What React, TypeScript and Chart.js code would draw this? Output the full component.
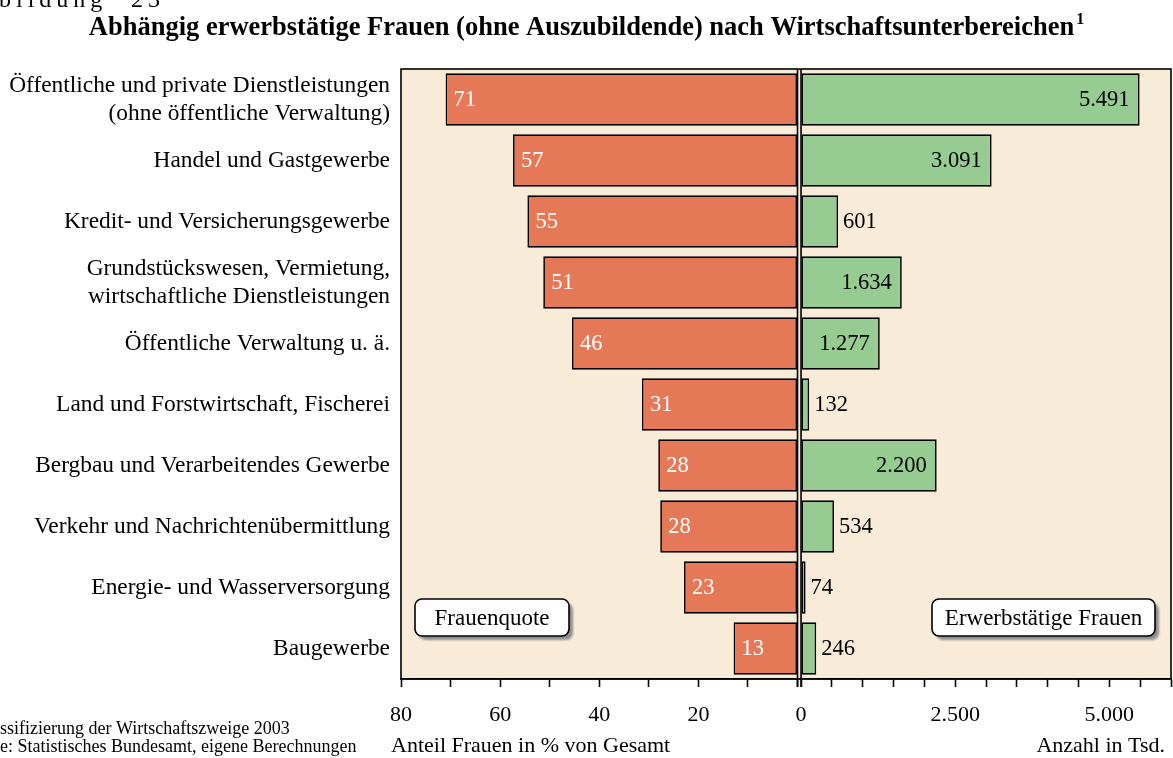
import React, { useEffect, useRef } from 'react';
import { Chart, registerables } from 'chart.js';

Chart.register(...registerables);

// ---------- data ----------
const categories: (string | string[])[] = [
  ['Öffentliche und private Dienstleistungen', '(ohne öffentliche Verwaltung)'],
  'Handel und Gastgewerbe',
  'Kredit- und Versicherungsgewerbe',
  ['Grundstückswesen, Vermietung,', 'wirtschaftliche Dienstleistungen'],
  'Öffentliche Verwaltung u. ä.',
  'Land und Forstwirtschaft, Fischerei',
  'Bergbau und Verarbeitendes Gewerbe',
  'Verkehr und Nachrichtenübermittlung',
  'Energie- und Wasserversorgung',
  'Baugewerbe',
];
// Anteil Frauen in % von Gesamt
const frauenquote = [71.0, 57.4, 54.5, 51.3, 45.5, 31.4, 28.1, 27.7, 22.9, 12.9];
// Erwerbstätige Frauen, Anzahl in Tsd.
const erwerbstaetige = [5491, 3091, 601, 1634, 1277, 132, 2200, 534, 74, 246];

const leftTicks = [0, 10, 20, 30, 40, 50, 60, 70, 80];
const leftLabeled = [20, 40, 60, 80];
const rightTicks = [0, 500, 1000, 1500, 2000, 2500, 3000, 3500, 4000, 4500, 5000, 5500, 6000];
const rightLabeled = [0, 2500, 5000];

const titleText = 'Abhängig erwerbstätige Frauen (ohne Auszubildende) nach Wirtschaftsunterbereichen';
const titleSup = '1';
const figureText = 'bildung';
const figureNum = '23';
const leftAxisTitle = 'Anteil Frauen in % von Gesamt';
const rightAxisTitle = 'Anzahl in Tsd.';
const footnote1 = 'ssifizierung der Wirtschaftszweige 2003';
const footnote2 = 'e: Statistisches Bundesamt, eigene Berechnungen';
const leftBoxText = 'Frauenquote';
const rightBoxText = 'Erwerbstätige Frauen';

// ---------- style ----------
const FONT = '"Liberation Serif", "Times New Roman", Times, serif';
const ORANGE = '#E57957';
const GREEN = '#96CC91';
const BEIGE = '#F8ECD8';

const fmtDE = (v: number) => String(Math.round(v)).replace(/\B(?=(\d{3})+(?!\d))/g, '.');

function drawBox(ctx: CanvasRenderingContext2D, x: number, y: number, w: number, h: number, text: string) {
  ctx.save();
  ctx.fillStyle = '#8e8e8e';
  ctx.filter = 'blur(1px)';
  ctx.beginPath();
  ctx.roundRect(x + 4, y + 4, w, h, 7);
  ctx.fill();
  ctx.filter = 'none';
  ctx.fillStyle = '#ffffff';
  ctx.beginPath();
  ctx.roundRect(x, y, w, h, 7);
  ctx.fill();
  ctx.lineWidth = 1.6;
  ctx.strokeStyle = '#000';
  ctx.stroke();
  ctx.fillStyle = '#000';
  ctx.font = `23px ${FONT}`;
  ctx.textAlign = 'center';
  ctx.textBaseline = 'middle';
  ctx.fillText(text, x + w / 2, y + h / 2 + 1);
  ctx.restore();
}

const decorPlugin = {
  id: 'decor',
  beforeDraw(chart: any) {
    const { ctx, chartArea: a } = chart;
    ctx.save();
    ctx.fillStyle = '#ffffff';
    ctx.fillRect(0, 0, chart.width, chart.height);
    ctx.fillStyle = BEIGE;
    ctx.fillRect(a.left, a.top, a.right - a.left, a.bottom - a.top);
    ctx.restore();
  },
  afterDatasetsDraw(chart: any) {
    const { ctx } = chart;
    ctx.save();
    ctx.font = `22.5px ${FONT}`;
    ctx.textBaseline = 'middle';
    const m0 = chart.getDatasetMeta(0);
    m0.data.forEach((bar: any, i: number) => {
      const p = bar.getProps(['x', 'y'], true);
      ctx.fillStyle = '#ffffff';
      ctx.textAlign = 'left';
      ctx.fillText(String(Math.round(frauenquote[i])), p.x + 8, p.y + 1);
    });
    const m1 = chart.getDatasetMeta(1);
    m1.data.forEach((bar: any, i: number) => {
      const p = bar.getProps(['x', 'y'], true);
      const v = erwerbstaetige[i];
      ctx.fillStyle = '#000000';
      if (v >= 1000) {
        ctx.textAlign = 'right';
        ctx.fillText(fmtDE(v), p.x - 10, p.y + 1);
      } else {
        ctx.textAlign = 'left';
        ctx.fillText(fmtDE(v), p.x + 5, p.y + 1);
      }
    });
    ctx.restore();
  },
  afterDraw(chart: any) {
    const { ctx, chartArea: a } = chart;
    const xL = chart.scales.xL;
    const xR = chart.scales.xR;
    ctx.save();
    // frame
    ctx.strokeStyle = '#000';
    ctx.lineWidth = 1.6;
    ctx.strokeRect(a.left, a.top, a.right - a.left, a.bottom - a.top);
    // centre lines
    const c1 = xL.getPixelForValue(0);
    const c2 = xR.getPixelForValue(0);
    ctx.beginPath();
    ctx.moveTo(c1, a.top);
    ctx.lineTo(c1, a.bottom + 8);
    ctx.moveTo(c2, a.top);
    ctx.lineTo(c2, a.bottom + 8);
    ctx.stroke();

    // legend boxes
    drawBox(ctx, a.left + 14, 599, 154, 37, leftBoxText);
    drawBox(ctx, a.right - 239, 599, 223, 37, rightBoxText);

    // title
    ctx.fillStyle = '#000';
    ctx.textBaseline = 'alphabetic';
    ctx.font = `bold 26.5px ${FONT}`;
    const wMain = ctx.measureText(titleText).width;
    ctx.font = `bold 16px ${FONT}`;
    const wSup = ctx.measureText(titleSup).width;
    const x0 = chart.width / 2 - (wMain + 2 + wSup) / 2;
    ctx.font = `bold 26.5px ${FONT}`;
    ctx.textAlign = 'left';
    ctx.fillText(titleText, x0, 35);
    ctx.font = `bold 16px ${FONT}`;
    ctx.fillText(titleSup, x0 + wMain + 2, 24);

    // figure number (cropped at top)
    ctx.font = `24px ${FONT}`;
    (ctx as any).letterSpacing = '5px';
    ctx.fillText(figureText, -1, 7);
    ctx.fillText(figureNum, 131, 7);
    (ctx as any).letterSpacing = '0px';

    // axis titles
    ctx.font = `22px ${FONT}`;
    ctx.textAlign = 'left';
    ctx.fillText(leftAxisTitle, a.left - 10, 752);
    ctx.textAlign = 'right';
    ctx.fillText(rightAxisTitle, a.right - 6, 752);

    // footnotes
    ctx.font = `18px ${FONT}`;
    ctx.textAlign = 'left';
    ctx.fillText(footnote1, 0, 734);
    ctx.fillText(footnote2, 0, 752);
    ctx.restore();
  },
};

const xFit = (s: any) => {
  s.height = 79;
  s.paddingLeft = 0;
  s.paddingRight = 0;
};

export default function App() {
  const ref = useRef<HTMLCanvasElement | null>(null);
  useEffect(() => {
    if (!ref.current) return;
    const chart = new Chart(ref.current, {
      type: 'bar',
      data: {
        labels: categories as any,
        datasets: [
          {
            label: leftBoxText,
            data: frauenquote,
            xAxisID: 'xL',
            yAxisID: 'y',
            backgroundColor: ORANGE,
            borderColor: '#000',
            borderWidth: 1.7,
            borderSkipped: false,
            grouped: false,
            barPercentage: 0.86,
            categoryPercentage: 1,
          } as any,
          {
            label: rightBoxText,
            data: erwerbstaetige,
            xAxisID: 'xR',
            yAxisID: 'y',
            backgroundColor: GREEN,
            borderColor: '#000',
            borderWidth: 1.7,
            borderSkipped: false,
            grouped: false,
            barPercentage: 0.86,
            categoryPercentage: 1,
          } as any,
        ],
      },
      options: {
        indexAxis: 'y',
        animation: false,
        responsive: true,
        maintainAspectRatio: false,
        layout: { padding: { top: 69, right: 2, bottom: 0, left: 0 } },
        plugins: {
          legend: { display: false },
          tooltip: { enabled: false },
          title: { display: false },
        },
        scales: {
          xL: {
            type: 'linear',
            position: 'bottom',
            stack: 'x',
            stackWeight: 398.5,
            reverse: true,
            min: -0.4,
            max: 80,
            afterBuildTicks: (s: any) => {
              s.ticks = leftTicks.map((v) => ({ value: v }));
            },
            afterFit: xFit,
            ticks: {
              autoSkip: false,
              maxRotation: 0,
              padding: 15,
              color: '#000',
              font: { family: FONT, size: 22 },
              callback: (v: any) => (leftLabeled.includes(Number(v)) ? String(v) : ''),
            },
            grid: {
              drawOnChartArea: false,
              drawTicks: true,
              tickLength: 8,
              tickWidth: 1.6,
              tickColor: '#000',
            },
            border: { display: true, color: '#000', width: 1.6 },
          },
          xR: {
            type: 'linear',
            position: 'bottom',
            stack: 'x',
            stackWeight: 371.5,
            min: -25,
            max: 6000,
            afterBuildTicks: (s: any) => {
              s.ticks = rightTicks.map((v) => ({ value: v }));
            },
            afterFit: xFit,
            ticks: {
              autoSkip: false,
              maxRotation: 0,
              padding: 15,
              color: '#000',
              font: { family: FONT, size: 22 },
              callback: (v: any) => (rightLabeled.includes(Number(v)) ? fmtDE(Number(v)) : ''),
            },
            grid: {
              drawOnChartArea: false,
              drawTicks: true,
              tickLength: 8,
              tickWidth: 1.6,
              tickColor: '#000',
            },
            border: { display: true, color: '#000', width: 1.6 },
          },
          y: {
            type: 'category',
            position: 'left',
            afterFit: (s: any) => {
              s.width = 401;
            },
            ticks: {
              padding: 11,
              color: '#000',
              autoSkip: false,
              font: { family: FONT, size: 23.4, lineHeight: 1.2 },
            },
            grid: { display: false, drawTicks: false },
            border: { display: false },
          },
        } as any,
      },
      plugins: [decorPlugin as any],
    });
    return () => chart.destroy();
  }, []);

  return (
    <div style={{ position: 'absolute', left: 0, top: 0, width: 1173, height: 758 }}>
      <canvas ref={ref} />
    </div>
  );
}
